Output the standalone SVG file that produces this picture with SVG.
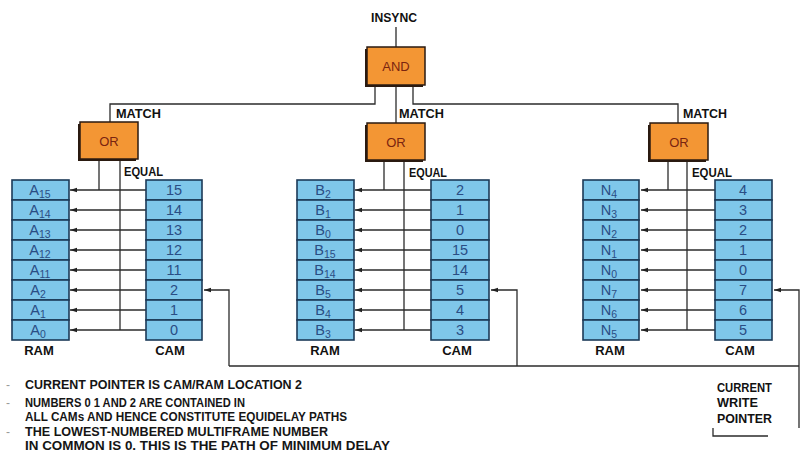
<svg xmlns="http://www.w3.org/2000/svg" width="804" height="475" viewBox="0 0 804 475">
<style>
.lbl{font-family:"Liberation Sans",Arial,sans-serif;font-weight:bold;font-size:13px;fill:#111}
.note{font-family:"Liberation Sans",Arial,sans-serif;font-weight:bold;font-size:13.5px;fill:#151515}
.dash{font-family:"Liberation Sans",Arial,sans-serif;font-size:12px;fill:#999}
.cell{fill:#7fc7ea;stroke:#1c3a58;stroke-width:1.6}
.ct{font-family:"Liberation Sans",Arial,sans-serif;font-size:14.5px;fill:#2a4d84;text-anchor:middle}
.gate{fill:#f39634;stroke:#2a1a10;stroke-width:1.5}
.shadow{fill:#2a1a10}
.gt{font-family:"Liberation Sans",Arial,sans-serif;font-size:13px;fill:#7a2410;text-anchor:middle}
.ln{stroke:#2b2b2b;stroke-width:1.3;fill:none}
.ar{stroke:#2b2b2b;stroke-width:1.3;fill:none;marker-end:url(#ah)}
</style>
<defs>
<marker id="ah" markerWidth="8" markerHeight="6" refX="7" refY="3" orient="auto" markerUnits="userSpaceOnUse">
<path d="M0,0.8 L7,3 L0,5.2 Z" fill="#222"/>
</marker>
</defs>
<rect width="804" height="475" fill="#fff"/>

<g id="connectors">
<line class="ln" x1="396" y1="27" x2="396" y2="47"/>
<polyline class="ln" points="375,85 375,104 110,104 110,122"/>
<line class="ln" x1="396" y1="85" x2="396" y2="123"/>
<polyline class="ln" points="413,85 413,104 678,104 678,123"/>
<line class="ln" x1="99" y1="160" x2="99" y2="190"/>
<line class="ln" x1="120" y1="160" x2="120" y2="330"/>
<line class="ln" x1="384" y1="160" x2="384" y2="190"/>
<line class="ln" x1="404" y1="160" x2="404" y2="330"/>
<line class="ln" x1="668" y1="160" x2="668" y2="190"/>
<line class="ln" x1="687" y1="160" x2="687" y2="330"/>
<line class="ar" x1="146" y1="190" x2="70" y2="190"/>
<line class="ar" x1="146" y1="210" x2="70" y2="210"/>
<line class="ar" x1="146" y1="230" x2="70" y2="230"/>
<line class="ar" x1="146" y1="250" x2="70" y2="250"/>
<line class="ar" x1="146" y1="270" x2="70" y2="270"/>
<line class="ar" x1="146" y1="290" x2="70" y2="290"/>
<line class="ar" x1="146" y1="310" x2="70" y2="310"/>
<line class="ar" x1="146" y1="330" x2="70" y2="330"/>
<line class="ar" x1="431" y1="190" x2="355" y2="190"/>
<line class="ar" x1="431" y1="210" x2="355" y2="210"/>
<line class="ar" x1="431" y1="230" x2="355" y2="230"/>
<line class="ar" x1="431" y1="250" x2="355" y2="250"/>
<line class="ar" x1="431" y1="270" x2="355" y2="270"/>
<line class="ar" x1="431" y1="290" x2="355" y2="290"/>
<line class="ar" x1="431" y1="310" x2="355" y2="310"/>
<line class="ar" x1="431" y1="330" x2="355" y2="330"/>
<line class="ar" x1="715" y1="190" x2="641" y2="190"/>
<line class="ar" x1="715" y1="210" x2="641" y2="210"/>
<line class="ar" x1="715" y1="230" x2="641" y2="230"/>
<line class="ar" x1="715" y1="250" x2="641" y2="250"/>
<line class="ar" x1="715" y1="270" x2="641" y2="270"/>
<line class="ar" x1="715" y1="290" x2="641" y2="290"/>
<line class="ar" x1="715" y1="310" x2="641" y2="310"/>
<line class="ar" x1="715" y1="330" x2="641" y2="330"/>
<polyline class="ar" points="229,366 229,290 204,290"/>
<polyline class="ar" points="517,366 517,290 491,290"/>
<polyline class="ar" points="799,428 799,290 774,290"/>
<line class="ln" x1="229" y1="366" x2="799" y2="366"/>
<polyline class="ln" points="713,428 713,436 768,436"/>
</g>

<g id="insync"><text class="lbl" x="394" y="22" text-anchor="middle" textLength="46" lengthAdjust="spacingAndGlyphs">INSYNC</text></g>

<g id="and">
<rect class="shadow" x="365" y="49" width="58" height="38"/>
<rect class="gate" x="367" y="47" width="58" height="38"/>
<text class="gt" x="396" y="71">AND</text>
</g>

<g id="orA">
<rect class="shadow" x="78" y="124" width="58" height="37"/>
<rect class="gate" x="80" y="122" width="58" height="37"/>
<text class="gt" x="109" y="146">OR</text>
<text class="lbl" x="116" y="118" textLength="45" lengthAdjust="spacingAndGlyphs">MATCH</text>
<text class="lbl" x="124" y="176" textLength="39" lengthAdjust="spacingAndGlyphs">EQUAL</text>
</g>
<g id="orB">
<rect class="shadow" x="365" y="125" width="58" height="37"/>
<rect class="gate" x="367" y="123" width="58" height="37"/>
<text class="gt" x="396" y="147">OR</text>
<text class="lbl" x="399" y="118" textLength="45" lengthAdjust="spacingAndGlyphs">MATCH</text>
<text class="lbl" x="409" y="177" textLength="38" lengthAdjust="spacingAndGlyphs">EQUAL</text>
</g>
<g id="orN">
<rect class="shadow" x="648" y="125" width="58" height="37"/>
<rect class="gate" x="650" y="123" width="58" height="37"/>
<text class="gt" x="679" y="147">OR</text>
<text class="lbl" x="683" y="118" textLength="44" lengthAdjust="spacingAndGlyphs">MATCH</text>
<text class="lbl" x="692" y="177" textLength="40" lengthAdjust="spacingAndGlyphs">EQUAL</text>
</g>

<g id="ramA">
<rect class="cell" x="12" y="180" width="57" height="20"/><rect class="cell" x="12" y="200" width="57" height="20"/>
<rect class="cell" x="12" y="220" width="57" height="20"/><rect class="cell" x="12" y="240" width="57" height="20"/>
<rect class="cell" x="12" y="260" width="57" height="20"/><rect class="cell" x="12" y="280" width="57" height="20"/>
<rect class="cell" x="12" y="300" width="57" height="20"/><rect class="cell" x="12" y="320" width="57" height="20"/>
<text class="ct" x="40" y="195">A<tspan font-size="10.5" dy="3">15</tspan></text>
<text class="ct" x="40" y="215">A<tspan font-size="10.5" dy="3">14</tspan></text>
<text class="ct" x="40" y="235">A<tspan font-size="10.5" dy="3">13</tspan></text>
<text class="ct" x="40" y="255">A<tspan font-size="10.5" dy="3">12</tspan></text>
<text class="ct" x="40" y="275">A<tspan font-size="10.5" dy="3">11</tspan></text>
<text class="ct" x="38" y="295">A<tspan font-size="10.5" dy="3">2</tspan></text>
<text class="ct" x="38" y="315">A<tspan font-size="10.5" dy="3">1</tspan></text>
<text class="ct" x="38" y="335">A<tspan font-size="10.5" dy="3">0</tspan></text>
<text class="lbl" x="39" y="355" text-anchor="middle">RAM</text>
</g>
<g id="camA">
<rect class="cell" x="146" y="180" width="56" height="20"/><rect class="cell" x="146" y="200" width="56" height="20"/>
<rect class="cell" x="146" y="220" width="56" height="20"/><rect class="cell" x="146" y="240" width="56" height="20"/>
<rect class="cell" x="146" y="260" width="56" height="20"/><rect class="cell" x="146" y="280" width="56" height="20"/>
<rect class="cell" x="146" y="300" width="56" height="20"/><rect class="cell" x="146" y="320" width="56" height="20"/>
<text class="ct" x="174" y="195">15</text><text class="ct" x="174" y="215">14</text>
<text class="ct" x="174" y="235">13</text><text class="ct" x="174" y="255">12</text>
<text class="ct" x="174" y="275">11</text><text class="ct" x="174" y="295">2</text>
<text class="ct" x="174" y="315">1</text><text class="ct" x="174" y="335">0</text>
<text class="lbl" x="170" y="355" text-anchor="middle">CAM</text>
</g>

<g id="ramB">
<rect class="cell" x="297" y="180" width="57" height="20"/><rect class="cell" x="297" y="200" width="57" height="20"/>
<rect class="cell" x="297" y="220" width="57" height="20"/><rect class="cell" x="297" y="240" width="57" height="20"/>
<rect class="cell" x="297" y="260" width="57" height="20"/><rect class="cell" x="297" y="280" width="57" height="20"/>
<rect class="cell" x="297" y="300" width="57" height="20"/><rect class="cell" x="297" y="320" width="57" height="20"/>
<text class="ct" x="323" y="195">B<tspan font-size="10.5" dy="3">2</tspan></text>
<text class="ct" x="323" y="215">B<tspan font-size="10.5" dy="3">1</tspan></text>
<text class="ct" x="323" y="235">B<tspan font-size="10.5" dy="3">0</tspan></text>
<text class="ct" x="325" y="255">B<tspan font-size="10.5" dy="3">15</tspan></text>
<text class="ct" x="325" y="275">B<tspan font-size="10.5" dy="3">14</tspan></text>
<text class="ct" x="323" y="295">B<tspan font-size="10.5" dy="3">5</tspan></text>
<text class="ct" x="323" y="315">B<tspan font-size="10.5" dy="3">4</tspan></text>
<text class="ct" x="323" y="335">B<tspan font-size="10.5" dy="3">3</tspan></text>
<text class="lbl" x="325" y="355" text-anchor="middle">RAM</text>
</g>
<g id="camB">
<rect class="cell" x="431" y="180" width="58" height="20"/><rect class="cell" x="431" y="200" width="58" height="20"/>
<rect class="cell" x="431" y="220" width="58" height="20"/><rect class="cell" x="431" y="240" width="58" height="20"/>
<rect class="cell" x="431" y="260" width="58" height="20"/><rect class="cell" x="431" y="280" width="58" height="20"/>
<rect class="cell" x="431" y="300" width="58" height="20"/><rect class="cell" x="431" y="320" width="58" height="20"/>
<text class="ct" x="460" y="195">2</text><text class="ct" x="460" y="215">1</text>
<text class="ct" x="460" y="235">0</text><text class="ct" x="460" y="255">15</text>
<text class="ct" x="460" y="275">14</text><text class="ct" x="460" y="295">5</text>
<text class="ct" x="460" y="315">4</text><text class="ct" x="460" y="335">3</text>
<text class="lbl" x="457" y="355" text-anchor="middle">CAM</text>
</g>

<g id="ramN">
<rect class="cell" x="583" y="180" width="56" height="20"/><rect class="cell" x="583" y="200" width="56" height="20"/>
<rect class="cell" x="583" y="220" width="56" height="20"/><rect class="cell" x="583" y="240" width="56" height="20"/>
<rect class="cell" x="583" y="260" width="56" height="20"/><rect class="cell" x="583" y="280" width="56" height="20"/>
<rect class="cell" x="583" y="300" width="56" height="20"/><rect class="cell" x="583" y="320" width="56" height="20"/>
<text class="ct" x="609" y="195">N<tspan font-size="10.5" dy="3">4</tspan></text>
<text class="ct" x="609" y="215">N<tspan font-size="10.5" dy="3">3</tspan></text>
<text class="ct" x="609" y="235">N<tspan font-size="10.5" dy="3">2</tspan></text>
<text class="ct" x="609" y="255">N<tspan font-size="10.5" dy="3">1</tspan></text>
<text class="ct" x="609" y="275">N<tspan font-size="10.5" dy="3">0</tspan></text>
<text class="ct" x="609" y="295">N<tspan font-size="10.5" dy="3">7</tspan></text>
<text class="ct" x="609" y="315">N<tspan font-size="10.5" dy="3">6</tspan></text>
<text class="ct" x="609" y="335">N<tspan font-size="10.5" dy="3">5</tspan></text>
<text class="lbl" x="610" y="355" text-anchor="middle">RAM</text>
</g>
<g id="camN">
<rect class="cell" x="715" y="180" width="57" height="20"/><rect class="cell" x="715" y="200" width="57" height="20"/>
<rect class="cell" x="715" y="220" width="57" height="20"/><rect class="cell" x="715" y="240" width="57" height="20"/>
<rect class="cell" x="715" y="260" width="57" height="20"/><rect class="cell" x="715" y="280" width="57" height="20"/>
<rect class="cell" x="715" y="300" width="57" height="20"/><rect class="cell" x="715" y="320" width="57" height="20"/>
<text class="ct" x="743" y="195">4</text><text class="ct" x="743" y="215">3</text>
<text class="ct" x="743" y="235">2</text><text class="ct" x="743" y="255">1</text>
<text class="ct" x="743" y="275">0</text><text class="ct" x="743" y="295">7</text>
<text class="ct" x="743" y="315">6</text><text class="ct" x="743" y="335">5</text>
<text class="lbl" x="740" y="355" text-anchor="middle">CAM</text>
</g>

<g id="write-pointer">
<text class="lbl" x="717" y="392" textLength="55" lengthAdjust="spacingAndGlyphs">CURRENT</text>
<text class="lbl" x="717" y="407" textLength="41" lengthAdjust="spacingAndGlyphs">WRITE</text>
<text class="lbl" x="717" y="423" textLength="55" lengthAdjust="spacingAndGlyphs">POINTER</text>
</g>

<g id="notes">
<text class="dash" x="6" y="389">-</text>
<text class="note" x="25" y="389" textLength="277" lengthAdjust="spacingAndGlyphs">CURRENT POINTER IS CAM/RAM LOCATION 2</text>
<text class="dash" x="6" y="407">-</text>
<text class="note" x="25" y="407" textLength="220" lengthAdjust="spacingAndGlyphs">NUMBERS 0 1 AND 2 ARE CONTAINED IN</text>
<text class="note" x="25" y="421" textLength="322" lengthAdjust="spacingAndGlyphs">ALL CAMs AND HENCE CONSTITUTE  EQUIDELAY PATHS</text>
<text class="dash" x="6" y="436">-</text>
<text class="note" x="25" y="436" textLength="303" lengthAdjust="spacingAndGlyphs">THE LOWEST-NUMBERED MULTIFRAME NUMBER</text>
<text class="note" x="25" y="450" textLength="365" lengthAdjust="spacingAndGlyphs">IN COMMON IS 0. THIS IS THE PATH OF MINIMUM DELAY</text>
</g>
</svg>
